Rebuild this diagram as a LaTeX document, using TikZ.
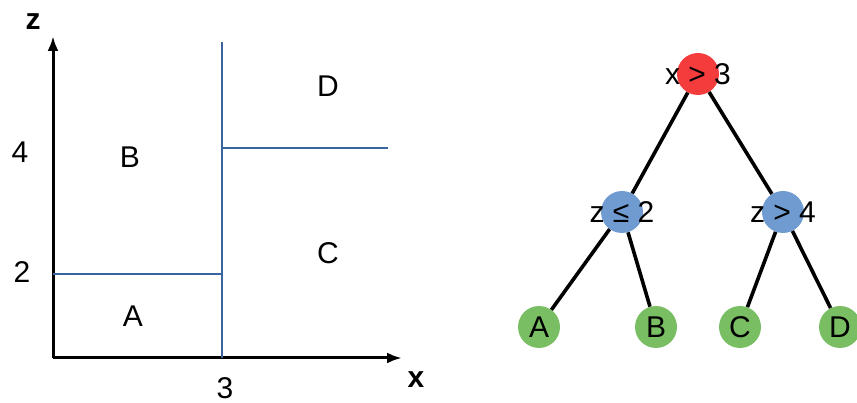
\documentclass[tikz,border=0pt]{standalone}
\usepackage{fontspec}
\setmainfont{Liberation Sans}
\usepackage{xcolor}
\usetikzlibrary{arrows.meta,positioning}
\definecolor{splitblue}{RGB}{58,100,160}
\definecolor{rootred}{RGB}{245,60,60}
\definecolor{testblue}{RGB}{111,155,208}
\definecolor{leafgreen}{RGB}{122,190,100}
\begin{document}
\begin{tikzpicture}[x=1pt, y=-1pt, font=\fontsize{30}{34}\selectfont,
  axis/.style={-{Latex[length=15pt,width=11pt]}, line width=3pt},
  split/.style={draw=splitblue, line width=2.6pt},
  edge/.style={line width=3.6pt},
  test/.style={circle, minimum size=42pt, inner sep=0pt},
  txt/.style={inner sep=0pt}]
\useasboundingbox (0,0) rectangle (857,403);
% partition of the plane
\coordinate (o) at (53,358);
\coordinate (ztop) at (53,36);
\coordinate (xend) at (402,358);
\draw[axis] (o) -- (ztop);
\draw[axis] (o) -- (xend);
\node[txt, font=\fontsize{30}{34}\selectfont\bfseries] (zlab) at (33,22) {z};
\node[txt, font=\fontsize{30}{34}\selectfont\bfseries] (xlab) at (416,380) {x};
\coordinate (s1a) at (222,42);
\coordinate (s1b) at (222,358);
\coordinate (s2a) at (53,274);
\coordinate (s2b) at (222,274);
\coordinate (s3a) at (222,148);
\coordinate (s3b) at (388,148);
\draw[split] (s1a) -- (s1b);
\draw[split] (s2a) -- (s2b);
\draw[split] (s3a) -- (s3b);
\node[txt] (t4) at (20,152) {4};
\node[txt] (t2) at (22,272) {2};
\node[txt] (t3) at (225,388) {3};
\node[txt] (rb) at (130,157) {B};
\node[txt] (ra) at (133,316) {A};
\node[txt] (rd) at (328,86) {D};
\node[txt] (rc) at (328,253) {C};
% decision tree
\node[test, fill=rootred] (root) at (698,74) {};
\node[test, fill=testblue] (zl) at (622,212) {};
\node[test, fill=testblue] (zr) at (783,212) {};
\node[test, fill=leafgreen] (la) at (539,327) {A};
\node[test, fill=leafgreen] (lb) at (656,327) {B};
\node[test, fill=leafgreen] (lc) at (740,327) {C};
\node[test, fill=leafgreen] (ld) at (840,327) {D};
\draw[edge] (root) -- (zl);
\draw[edge] (root) -- (zr);
\draw[edge] (zl) -- (la);
\draw[edge] (zl) -- (lb);
\draw[edge] (zr) -- (lc);
\draw[edge] (zr) -- (ld);
\node[txt] (qroot) at (root) {x > 3};
\node[txt] (qzl) at (zl) {z ≤ 2};
\node[txt] (qzr) at (zr) {z > 4};
\end{tikzpicture}
\end{document}
